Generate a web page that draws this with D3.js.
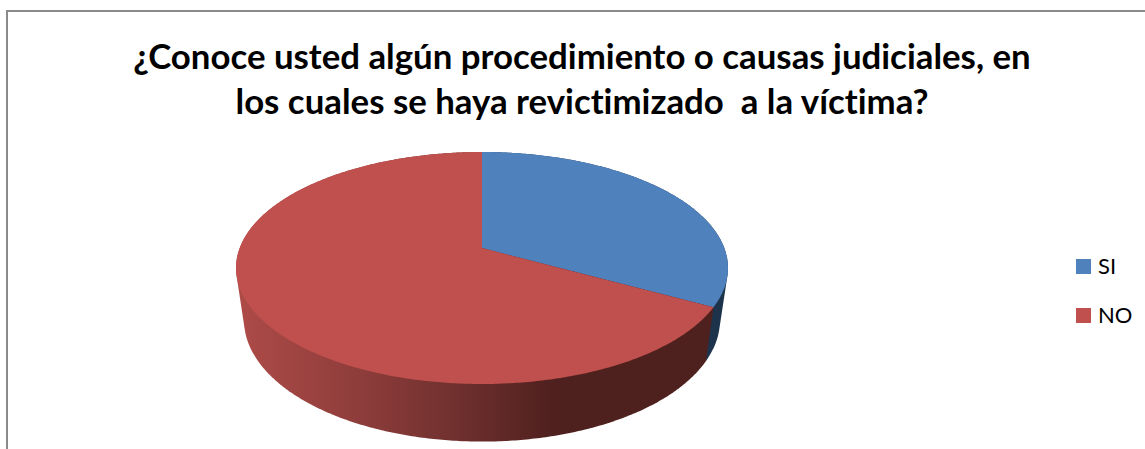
<!DOCTYPE html>
<html>
<head>
<meta charset="utf-8">
<style>html,body{margin:0;padding:0;background:#fff;overflow:hidden}svg{display:block}text{font-family:Lato,"Open Sans",sans-serif;fill:#000;font-variant-ligatures:none}</style>
<script src="https://cdn.jsdelivr.net/npm/d3@7/dist/d3.min.js"></script>
</head>
<body>
<script>
const categories = ["SI", "NO"];
const values = [33, 67];
const sliceColors = ["#4f81bd", "#c0504d"];
const titleLines = ["¿Conoce usted algún procedimiento o causas judiciales, en", "los cuales se haya revictimizado  a la víctima?"];

const W = 1145, H = 449;
const svg = d3.select("body").append("svg").attr("width", W).attr("height", H);

// chart frame
svg.append("path").attr("d", `M7,${H}V11H${W}`).attr("fill", "none").attr("stroke", "#8a8a8a").attr("stroke-width", 2);

// title
svg.append("g").selectAll("text").data(titleLines).join("text")
  .attr("x", 582).attr("y", (d, i) => 69 + i * 45)
  .attr("text-anchor", "middle").attr("font-weight", 700).attr("font-size", 34.8)
  .attr("xml:space", "preserve").style("white-space", "pre").text(d => d);

// perspective pie planes
const k = 0.1724, cx = 482;
const topPlane = {a: 242.3, b: 112.55, c: 248};
const botPlane = {a: 234.4, b: 118, c: 299};
const project = (plane, t) => {
  const u = Math.sin(t), v = -Math.cos(t), w = 1 - k * v;
  return [cx + plane.a * u / w, plane.c + plane.b * v / w];
};
const sample = (t0, t1) => {
  const n = Math.max(2, Math.ceil((t1 - t0) / 0.01));
  return d3.range(n + 1).map(i => t0 + (t1 - t0) * i / n);
};
const line = d3.line();
const arcs = d3.pie().sort(null).startAngle(0).endAngle(2 * Math.PI)(values);

const defs = svg.append("defs");
const grads = [
  {id: "wall0", stops: [[0.75, "#1f3c5e"], [1, "#1c3249"]]},
  {id: "wall1", stops: [[0, "#ae4b48"], [0.25, "#8e3d3b"], [0.45, "#6f302e"], [0.65, "#4e201e"], [1, "#4e201e"]]}
];
grads.forEach(g => {
  const lg = defs.append("linearGradient").attr("id", g.id).attr("gradientUnits", "userSpaceOnUse")
    .attr("x1", 236).attr("x2", 728).attr("y1", 0).attr("y2", 0);
  g.stops.forEach(s => lg.append("stop").attr("offset", s[0]).attr("stop-color", s[1]));
});

// side walls: the hull of a slice's rim on both planes
const pie = svg.append("g");
pie.selectAll("path.wall").data(arcs).join("path").attr("class", "wall")
  .attr("fill", (d, i) => `url(#wall${i})`)
  .attr("d", d => {
    const ts = sample(d.startAngle, d.endAngle);
    const pts = ts.map(t => project(topPlane, t)).concat(ts.map(t => project(botPlane, t)));
    return line(d3.polygonHull(pts)) + "Z";
  });

// top faces
pie.selectAll("path.face").data(arcs).join("path").attr("class", "face")
  .attr("fill", (d, i) => sliceColors[i])
  .attr("d", d => {
    const pts = sample(d.startAngle, d.endAngle).map(t => project(topPlane, t));
    return line([[cx, topPlane.c], ...pts]) + "Z";
  });

// legend
const legendY = d3.scalePoint().domain(categories).range([266.5, 315.5]);
const legend = svg.append("g").selectAll("g").data(categories).join("g")
  .attr("transform", d => `translate(1076,${legendY(d)})`);
legend.append("rect").attr("x", 0).attr("y", -7.5).attr("width", 15).attr("height", 15)
  .attr("fill", (d, i) => sliceColors[i]);
legend.append("text").attr("x", 22).attr("y", 7.5).attr("font-size", 22).text(d => d);
</script>
</body>
</html>
